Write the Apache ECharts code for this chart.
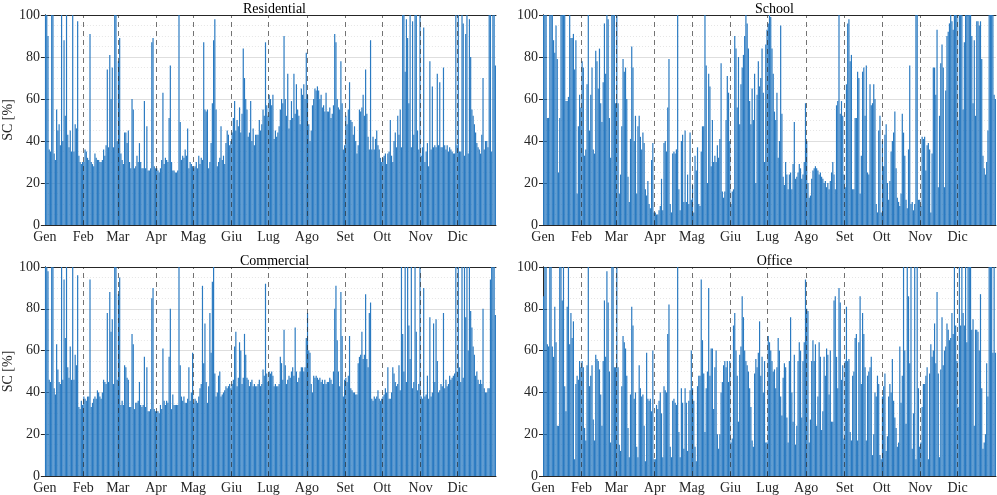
<!DOCTYPE html>
<html><head><meta charset="utf-8">
<script src="https://cdn.jsdelivr.net/npm/echarts@6/dist/echarts.min.js"></script>
<style>html,body{margin:0;padding:0;background:#fff}#c{width:997px;height:495px}</style>
</head><body><div id="c"></div>
<script>
const months = ['Gen','Feb','Mar','Apr','Mag','Giu','Lug','Ago','Set','Ott','Nov','Dic'];
const daysInMonth = [31,28,31,30,31,30,31,31,30,31,30,31];
const yTicks = [0,20,40,60,80,100];

const residential = [
100,100,90,36,35,100,100,34,31,55,45,48,38,100,40,88,52,100,43,37,45,35,100,35,48,46,97,33,30,29,30,
30,36,35,32,31,91,30,29,28,34,32,31,31,30,30,31,36,33,38,74,37,81,60,75,37,100,100,40,
78,89,34,31,29,44,44,39,45,30,27,60,55,27,28,33,30,39,30,27,27,59,27,47,26,26,27,87,89,28,27,
27,26,25,27,31,63,29,32,31,30,51,76,30,26,26,25,25,26,100,49,31,33,32,36,33,46,27,30,29,28,
27,28,30,27,33,29,32,31,87,55,54,55,27,30,39,58,88,98,55,28,30,32,47,31,33,29,39,45,43,38,40,
44,51,59,45,50,47,56,44,53,84,70,60,55,42,44,59,40,46,38,43,43,43,50,45,48,55,52,87,57,52,
62,60,57,62,41,45,42,44,47,55,60,58,90,60,52,72,46,50,59,51,72,53,67,55,52,48,65,62,67,60,82,
62,48,40,45,57,60,65,64,66,64,60,62,56,57,54,63,54,54,56,51,53,57,91,87,60,56,55,78,58,36,38,
52,48,55,68,50,49,43,47,40,34,38,55,54,56,62,52,74,53,42,36,88,36,42,36,41,45,38,36,32,30,
32,33,34,29,34,35,50,33,30,40,44,37,52,43,55,37,100,100,73,98,89,58,100,37,97,43,100,100,45,36,100,
33,37,94,30,35,39,28,78,36,66,37,38,37,72,38,68,37,37,75,38,36,38,35,37,36,35,34,34,100,38,
100,35,35,100,96,33,91,100,34,98,80,55,52,48,44,39,37,36,34,43,70,36,40,40,37,100,100,35,100,100,76
];

const school = [
100,100,100,51,51,100,100,100,88,82,95,79,25,51,100,100,100,100,59,59,61,100,89,89,91,74,88,15,47,62,56,
78,75,33,36,67,100,45,62,75,36,34,83,78,65,84,58,49,68,96,72,100,98,51,32,100,100,100,58,
100,58,15,24,47,79,73,75,60,23,11,41,85,75,40,52,15,47,52,42,36,44,39,17,14,21,10,8,31,39,6,
6,5,5,7,9,22,7,39,40,35,56,79,10,6,34,35,34,36,100,17,7,40,43,11,45,11,24,10,44,12,
19,6,33,26,37,10,9,35,47,47,100,76,20,72,66,28,50,30,33,30,38,32,41,77,16,13,16,50,71,63,40,
10,16,17,90,84,56,80,48,67,75,81,90,100,96,84,59,48,65,50,72,20,62,78,66,70,84,63,30,86,93,
96,100,99,84,72,54,50,63,32,40,95,53,23,19,30,24,17,24,25,17,29,49,22,23,25,29,27,22,24,30,58,
40,20,13,14,22,26,27,28,27,26,24,25,23,22,20,21,18,20,17,21,25,30,24,17,57,59,100,53,59,52,24,
18,67,96,98,78,81,17,17,51,51,73,70,15,33,73,75,52,76,25,24,67,57,58,67,60,10,6,45,52,6,
40,28,43,48,20,12,21,35,40,44,54,27,13,11,9,15,53,44,33,12,8,36,76,10,11,7,10,100,100,12,12,
9,42,41,42,26,38,39,36,6,34,75,75,62,93,18,52,77,86,75,18,64,90,92,96,100,97,93,100,100,100,
50,100,100,100,55,87,100,100,100,100,100,90,58,88,52,97,97,95,97,79,33,27,24,30,45,100,100,100,100,62,60
];

const commercial = [
100,100,98,46,45,100,100,42,39,63,51,45,44,100,46,94,66,100,52,47,62,46,100,46,58,53,96,33,32,36,34,
38,37,36,38,38,94,33,35,37,38,37,41,40,38,37,40,46,45,44,78,45,88,69,75,44,100,100,46,
87,95,34,36,34,53,52,47,46,33,33,68,63,32,35,35,36,45,34,33,34,57,33,52,31,31,32,85,90,32,31,
31,31,30,34,32,61,36,34,36,35,57,80,32,39,34,34,34,34,100,53,38,36,38,35,35,37,52,36,40,59,
35,37,36,35,38,42,44,91,54,73,45,35,43,78,59,93,100,49,38,40,48,50,38,39,40,41,43,42,43,44,42,
44,46,62,69,43,47,64,60,44,47,68,58,47,46,43,45,46,43,44,43,43,44,46,43,44,51,48,92,49,45,
50,49,50,48,43,44,43,43,44,57,54,46,70,53,44,46,48,47,50,52,48,71,50,45,47,50,52,52,50,52,66,
78,60,59,44,40,48,47,48,47,46,47,45,46,44,46,44,45,45,47,46,44,50,80,91,65,50,43,88,67,38,46,
47,45,48,67,42,41,40,40,39,39,54,57,58,69,56,58,87,56,52,78,83,37,36,38,37,38,41,37,36,37,
38,39,42,40,52,37,37,40,52,49,45,43,44,53,41,100,68,50,100,45,100,72,56,100,42,45,100,69,41,44,100,
38,37,90,38,39,48,37,76,38,40,73,45,75,55,40,41,44,43,78,42,46,43,44,48,46,47,48,49,100,50,
100,52,45,100,47,100,76,100,60,100,79,71,62,58,48,50,46,44,46,44,80,42,40,40,42,42,94,100,100,100,77
];

const office = [
86,100,100,63,62,100,100,62,57,81,64,24,24,100,100,84,100,43,31,81,100,63,78,66,74,8,44,48,46,55,52,
55,52,23,17,53,100,43,48,53,27,17,58,56,55,51,39,24,55,84,57,98,83,50,16,100,100,52,52,
100,52,15,12,43,67,64,61,48,23,9,39,81,72,37,40,14,9,53,42,38,39,24,7,59,37,36,37,31,60,8,
8,34,32,36,40,30,9,43,41,40,68,82,14,9,36,37,35,34,100,21,9,42,35,13,42,35,12,36,41,60,
42,36,14,7,43,48,48,94,65,49,21,42,50,90,48,61,61,32,52,60,20,13,20,40,45,53,55,52,55,45,55,
16,18,72,78,60,48,26,58,62,86,76,60,55,53,50,42,33,17,14,49,56,52,59,74,48,57,40,55,16,16,
67,64,60,55,50,51,42,52,66,60,38,29,47,54,52,28,16,55,76,40,26,58,15,24,55,64,60,28,55,64,94,
80,79,16,27,55,65,55,63,24,38,64,57,22,31,57,48,61,58,39,60,26,26,84,86,57,42,90,83,46,53,18,
55,81,55,56,21,17,48,50,66,68,17,64,86,44,78,68,52,17,48,50,52,57,10,20,40,38,48,44,10,8,
38,43,49,12,19,38,44,40,56,36,28,23,14,16,62,35,48,100,60,25,100,86,54,100,13,30,100,8,100,42,14,
16,33,44,44,48,52,8,49,63,57,60,73,54,88,49,9,51,76,53,60,62,73,70,65,66,78,68,100,72,55,
33,100,72,100,78,72,100,64,100,100,100,70,75,24,70,70,69,60,87,42,13,16,20,54,38,100,100,100,59,100,59
];

const titles = ['Residential','School','Commercial','Office'];
const seriesData = [residential, school, commercial, office];

const monthStarts = [];
let acc = 0;
for (const d of daysInMonth) { monthStarts.push(acc); acc += d; }
const nDays = acc;
const dayCats = Array.from({length: nDays}, (_, i) => i + 1);

const FONT = 'Liberation Serif';
const AX = '#262626';
const layout = [
  {left: 43, top: 15, height: 210, ylab: true},
  {left: 543, top: 15, height: 210, ylab: false},
  {left: 43, top: 267, height: 209, ylab: true},
  {left: 543, top: 267, height: 209, ylab: false}
];
const W = 453;

const grid = [], xAxis = [], yAxis = [], series = [], title = [];
layout.forEach((L, i) => {
  grid.push({left: L.left, top: L.top, width: W, height: L.height});
  title.push({text: titles[i], left: L.left + W / 2, top: L.top - 18, textAlign: 'center',
    textStyle: {fontFamily: FONT, fontSize: 14, fontWeight: 'normal', color: '#000', lineHeight: 14}});
  xAxis.push({type: 'category', gridIndex: i, data: dayCats, show: false, boundaryGap: true});
  xAxis.push({type: 'value', gridIndex: i, min: 0, max: nDays, position: 'bottom',
    axisLine: {show: true, onZero: false, lineStyle: {color: AX, width: 1}},
    axisTick: {show: true, inside: true, length: 4, customValues: monthStarts, lineStyle: {color: AX}},
    axisLabel: {show: true, customValues: monthStarts, margin: 5,
      formatter: v => months[monthStarts.indexOf(v)] || '',
      fontFamily: FONT, fontSize: 14, color: AX},
    splitLine: {show: false}});
  xAxis.push({type: 'value', gridIndex: i, min: 0, max: nDays, position: 'top',
    axisLine: {show: true, onZero: false, lineStyle: {color: AX, width: 1}},
    axisTick: {show: false}, axisLabel: {show: false}, splitLine: {show: false}});
  yAxis.push({type: 'value', gridIndex: i, min: 0, max: 100, interval: 20, position: 'left',
    name: L.ylab ? 'SC [%]' : '', nameLocation: 'middle', nameGap: 29,
    nameTextStyle: {fontFamily: FONT, fontSize: 14, color: AX},
    axisLine: {show: true, lineStyle: {color: AX, width: 1}},
    axisTick: {show: true, inside: true, length: 4, lineStyle: {color: AX}},
    axisLabel: {fontFamily: FONT, fontSize: 14, color: AX, margin: 5,
      customValues: yTicks},
    splitLine: {show: true, lineStyle: {color: '#dedede', width: 1}},
    minorTick: {show: false, splitNumber: 4},
    minorSplitLine: {show: true, lineStyle: {color: '#e6e6e6', type: [1, 2], width: 1}}});
  yAxis.push({type: 'value', gridIndex: i, min: 0, max: 100, interval: 20, position: 'right',
    axisLine: {show: true, lineStyle: {color: AX, width: 1}},
    axisTick: {show: true, inside: true, length: 4, lineStyle: {color: AX}},
    axisLabel: {show: false}, splitLine: {show: false}});
  series.push({type: 'bar', xAxisIndex: 3 * i, yAxisIndex: 2 * i, data: seriesData[i],
    barCategoryGap: '4%', itemStyle: {color: '#2a7ac1'}, silent: true, animation: false, z: 2});
  series.push({type: 'line', xAxisIndex: 3 * i + 1, yAxisIndex: 2 * i, data: [[0, 0]],
    symbol: 'none', lineStyle: {opacity: 0}, silent: true, animation: false, z: 5,
    markLine: {silent: true, symbol: ['none', 'none'], animation: false,
      label: {show: false},
      lineStyle: {type: [5, 4], color: 'rgba(40,40,40,0.65)', width: 1},
      data: monthStarts.slice(1).map(v => ({xAxis: v}))}});
});

const chart = echarts.init(document.getElementById('c'), null, {renderer: 'canvas'});
chart.setOption({animation: false, backgroundColor: '#fff', title, grid, xAxis, yAxis, series});
</script>
</body></html>
